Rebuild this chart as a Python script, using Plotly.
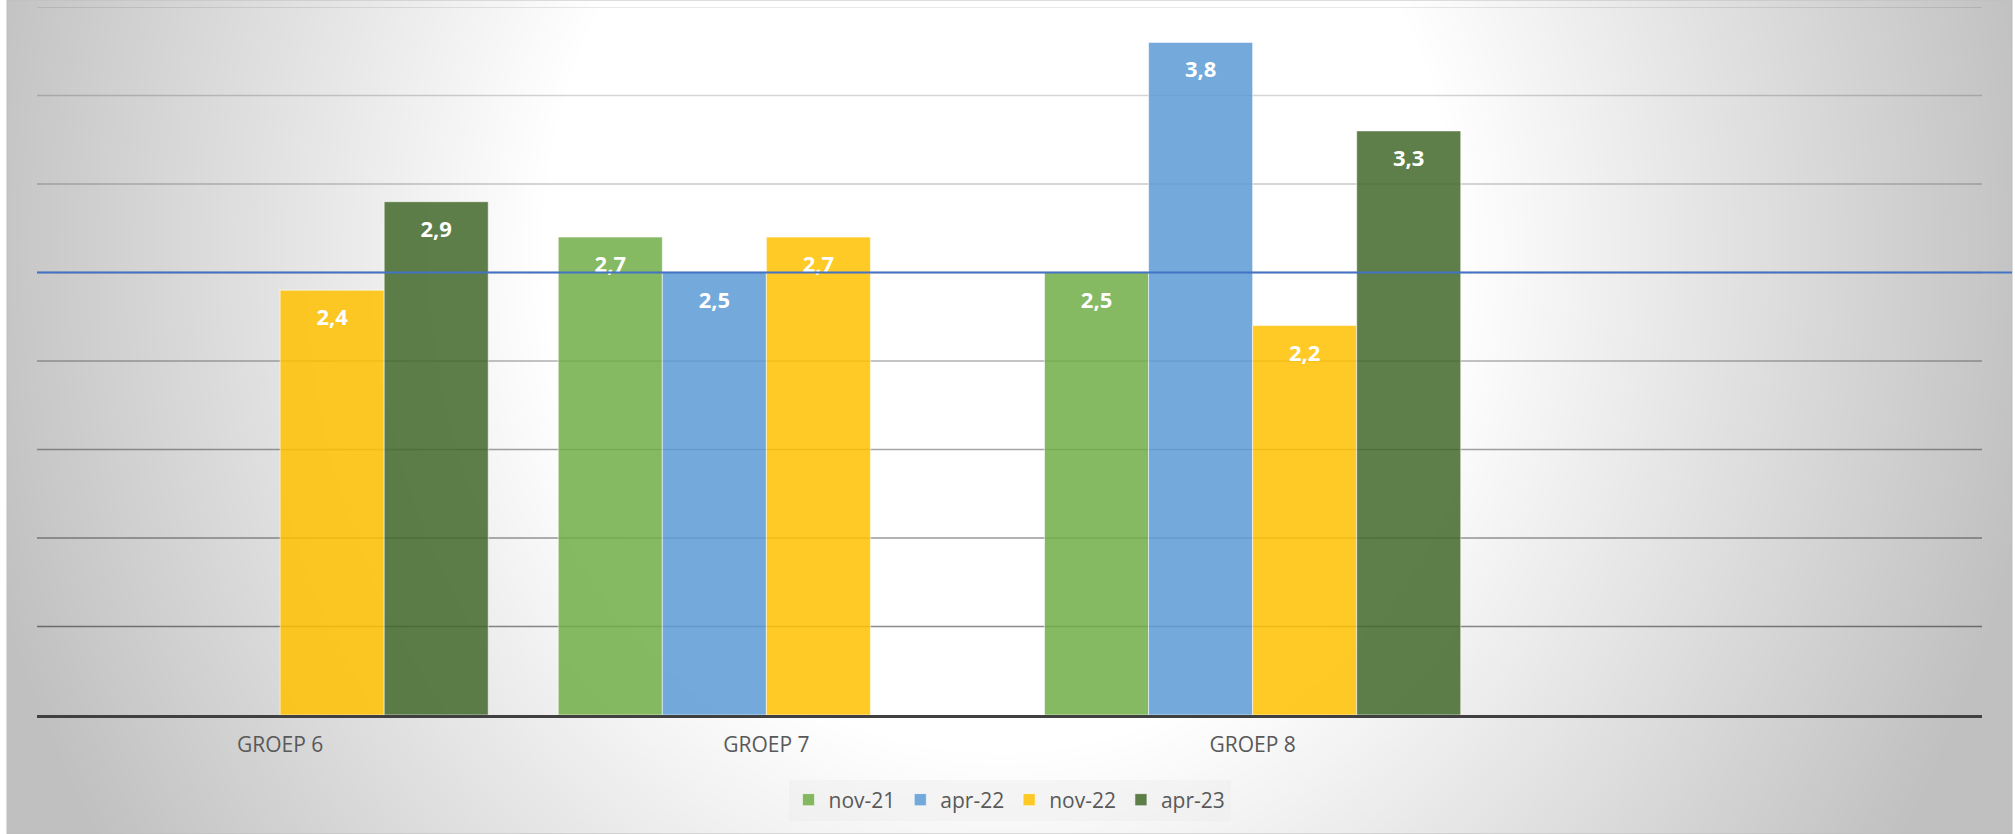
import base64
import struct
import zlib

import numpy as np
import plotly.graph_objects as go

# ---------------- data ----------------
CATEGORIES = ["GROEP 6", "GROEP 7", "GROEP 8", " "]
SERIES = ["nov-21", "apr-22", "nov-22", "apr-23"]
NOV_21 = [None, 2.7, 2.5, None]
APR_22 = [None, 2.5, 3.8, None]
NOV_22 = [2.4, 2.7, 2.2, None]
APR_23 = [2.9, None, 3.3, None]
Y_TICKS = [0.5, 1.0, 1.5, 2.0, 2.5, 3.0, 3.5, 4.0]
REF_LINE = 2.5

VALUES = [NOV_21, APR_22, NOV_22, APR_23]
COLORS = ["rgba(112,173,71,0.85)", "rgba(91,155,213,0.85)",
          "rgba(255,192,0,0.85)", "rgba(67,105,42,0.85)"]

# ---------------- geometry ----------------
W, H = 2015, 834
L, R, T, B = 37, 33, 7, 119
PW, PH = W - L - R, H - T - B
BARGAP = 0.144


# ---------------- background gradient image ----------------
def gray_png_uri(arr):
    h, w = arr.shape
    raw = b"".join(b"\x00" + arr[i].tobytes() for i in range(h))

    def chunk(tag, data):
        c = struct.pack(">I", len(data)) + tag + data
        return c + struct.pack(">I", zlib.crc32(tag + data) & 0xFFFFFFFF)

    png = (b"\x89PNG\r\n\x1a\n"
           + chunk(b"IHDR", struct.pack(">IIBBBBB", w, h, 8, 0, 0, 0, 0))
           + chunk(b"IDAT", zlib.compress(raw, 9))
           + chunk(b"IEND", b""))
    return "data:image/png;base64," + base64.b64encode(png).decode()


BG_X0, BG_X1 = 7, 2012
gw, gh = (BG_X1 - BG_X0) // 2, H // 2
xs = np.linspace(BG_X0, BG_X1, gw)
ys = np.linspace(0, H, gh)
XX, YY = np.meshgrid(xs, ys)
d = np.sqrt(((XX - 1000) / 1000.0) ** 2 + ((YY - 250) / 1100.0) ** 2)
t = np.clip((d - 0.46) / (1.0 - 0.46), 0, 1.1)
g = np.clip(255 - 57 * t, 190, 255).astype(np.uint8)
bg_uri = gray_png_uri(g)

fig = go.Figure()

for name, vals, col in zip(SERIES, VALUES, COLORS):
    fig.add_trace(go.Bar(
        name=name, x=CATEGORIES, y=vals,
        marker=dict(color=col, line=dict(color="rgba(255,255,255,0.55)", width=1)),
        hoverinfo="skip",
    ))

for name, vals in zip(SERIES, VALUES):
    fig.add_trace(go.Scatter(
        x=CATEGORIES, y=vals, mode="markers+text",
        marker=dict(size=28, color="rgba(0,0,0,0)"),
        texttemplate="%{y:.1f}", textposition="bottom center",
        textfont=dict(family="Open Sans", size=22, color="white", weight=700),
        showlegend=False, hoverinfo="skip", cliponaxis=False,
    ))

shapes = []
n = len(Y_TICKS)
for i, v in enumerate(Y_TICKS):
    a = 0.45 - (0.45 - 0.12) * i / (n - 1)
    shapes.append(dict(type="line", xref="paper", yref="y", x0=0, x1=1, y0=v, y1=v,
                       line=dict(color=f"rgba(0,0,0,{a:.3f})", width=1.5), layer="below"))
shapes.append(dict(type="line", xref="paper", yref="y", x0=0, x1=(BG_X1 - L) / PW,
                   y0=REF_LINE, y1=REF_LINE, line=dict(color="#4472C4", width=2), layer="above"))
# thin border of the chart area
shapes.append(dict(type="rect", xref="paper", yref="paper",
                   x0=(BG_X0 - L) / PW, x1=(BG_X1 - L) / PW, y0=(T + PH - H) / PH, y1=(T + PH) / PH,
                   line=dict(color="#bdbdbd", width=1), layer="below"))

fig.update_layout(
    width=W, height=H, autosize=False,
    margin=dict(l=L, r=R, t=T, b=B, pad=0),
    paper_bgcolor="white", plot_bgcolor="rgba(0,0,0,0)",
    barmode="group", bargap=BARGAP, bargroupgap=0,
    scattermode="group", scattergap=BARGAP,
    separators=",.",
    font=dict(family="Open Sans", color="#595959"),
    showlegend=True,
    legend=dict(orientation="h", x=0.5, xanchor="center", y=(T + PH - 800) / PH, yanchor="middle",
                bgcolor="rgba(235,235,235,0.4)", font=dict(size=21, color="#595959"),
                traceorder="normal"),
    images=[dict(source=bg_uri, xref="paper", yref="paper",
                 x=(BG_X0 - L) / PW, y=(T + PH) / PH, sizex=(BG_X1 - BG_X0) / PW, sizey=H / PH,
                 xanchor="left", yanchor="top", sizing="stretch", layer="below")],
    shapes=shapes,
    xaxis=dict(type="category", categoryorder="array", categoryarray=CATEGORIES,
               range=[-0.5, 3.5], showgrid=False, ticks="", zeroline=False,
               showline=True, linewidth=3, linecolor="#404040",
               tickfont=dict(size=21, color="#595959"), ticklabelstandoff=9, fixedrange=True),
    yaxis=dict(range=[0, 4], showgrid=False, showticklabels=False, zeroline=False,
               showline=False, ticks="", fixedrange=True),
)

fig.write_html("out.html", config={"displayModeBar": False},
               post_script="document.body.style.margin='0';document.body.style.overflow='hidden';")
